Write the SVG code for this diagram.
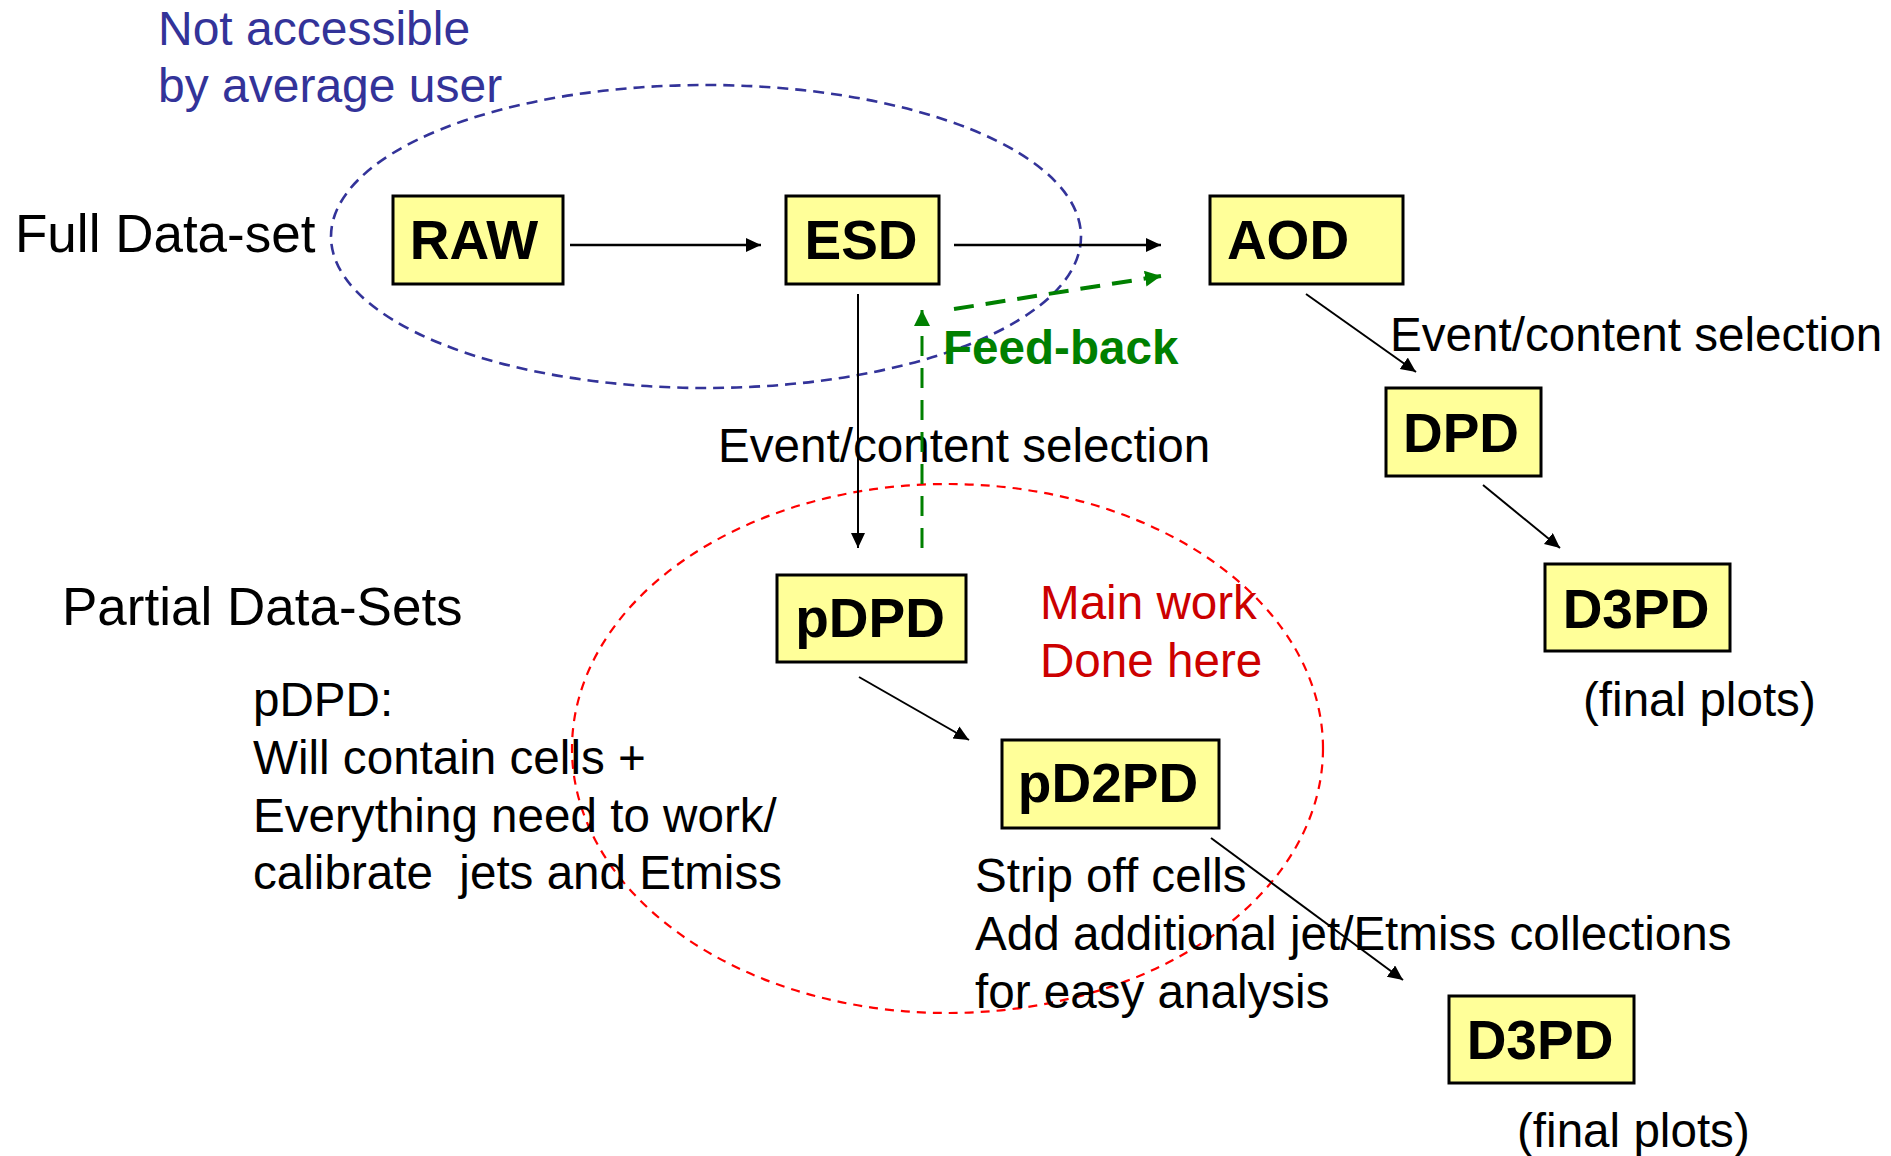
<svg xmlns="http://www.w3.org/2000/svg" width="1891" height="1156" viewBox="0 0 1891 1156">
<style>
text{font-family:"Liberation Sans",Arial,sans-serif}
.box{fill:#FFFF99;stroke:#000;stroke-width:3}
.bt{font-size:55px;font-weight:bold;fill:#000;text-anchor:middle}
.t{font-size:47.6px;fill:#000}
.big{font-size:53px;fill:#000}
.blue{font-size:48px;fill:#333399}
.red{font-size:47.6px;fill:#CC0000}
.green{font-size:47.6px;font-weight:bold;fill:#008000}
.arr{stroke:#000;stroke-width:2.5;fill:none;marker-end:url(#ah)}
.thin{stroke:#000;stroke-width:2;fill:none;marker-end:url(#ah)}
.fb{stroke:#008000;stroke-width:4;stroke-dasharray:20 12;fill:none;marker-end:url(#gh)}
.fbv{stroke:#008000;stroke-width:3;stroke-dasharray:20 12;fill:none;marker-end:url(#gh)}
</style>
<defs>
<marker id="ah" markerUnits="userSpaceOnUse" markerWidth="16" markerHeight="16" refX="15" refY="7" orient="auto">
<path d="M0,0 L15,7 L0,14 z" fill="#000"/>
</marker>
<marker id="gh" markerUnits="userSpaceOnUse" markerWidth="17" markerHeight="17" refX="16" refY="8" orient="auto">
<path d="M0,0 L16,8 L0,16 z" fill="#008000"/>
</marker>
</defs>

<g id="regions">
<ellipse cx="706" cy="236.5" rx="375" ry="151.5" fill="none" stroke="#333399" stroke-width="2.6" stroke-dasharray="11 7"/>
<ellipse cx="947.5" cy="748.5" rx="375.5" ry="264.5" fill="none" stroke="#FF0000" stroke-width="2.2" stroke-dasharray="9 7"/>
</g>

<g id="labels">
<text class="blue" x="158" y="45">Not accessible</text>
<text class="blue" x="158" y="102">by average user</text>
<text class="big" x="15" y="252">Full Data-set</text>
<text class="big" x="62" y="625">Partial Data-Sets</text>
<text class="t" x="253" y="716">pDPD:</text>
<text class="t" x="253" y="774">Will contain cells +</text>
<text class="t" x="253" y="832">Everything need to work/</text>
<text class="t" x="253" y="889" xml:space="preserve">calibrate  jets and Etmiss</text>
<text class="red" x="1040" y="619">Main work</text>
<text class="red" x="1040" y="677">Done here</text>
<text class="t" x="975" y="892">Strip off cells</text>
<text class="t" x="975" y="950">Add additional jet/Etmiss collections</text>
<text class="t" x="975" y="1008">for easy analysis</text>
<text class="t" x="1583" y="716">(final plots)</text>
<text class="t" x="1517" y="1147">(final plots)</text>
<text class="t" x="718" y="462">Event/content selection</text>
<text class="t" x="1390" y="351">Event/content selection</text>
<text class="green" x="943" y="364">Feed-back</text>
</g>

<g id="connectors">
<line class="arr" x1="570" y1="245" x2="761" y2="245"/>
<line class="arr" x1="954" y1="245" x2="1161" y2="245"/>
<line class="thin" x1="858" y1="294" x2="858" y2="548"/>
<line class="fbv" x1="922" y1="548" x2="922" y2="310"/>
<line class="fb" x1="954" y1="309" x2="1161" y2="276"/>
<line class="thin" x1="1306" y1="294" x2="1416" y2="372"/>
<line class="thin" x1="1483" y1="485" x2="1560" y2="548"/>
<line class="thin" x1="859" y1="677" x2="969" y2="740"/>
<line class="thin" x1="1211" y1="838" x2="1403" y2="980"/>
</g>

<g id="RAW"><rect class="box" x="393" y="196" width="170" height="88"/><text class="bt" x="474" y="259">RAW</text></g>
<g id="ESD"><rect class="box" x="786" y="196" width="153" height="88"/><text class="bt" x="861" y="259">ESD</text></g>
<g id="AOD"><rect class="box" x="1210" y="196" width="193" height="88"/><text class="bt" x="1288" y="259">AOD</text></g>
<g id="DPD"><rect class="box" x="1386" y="388" width="155" height="88"/><text class="bt" x="1461" y="452">DPD</text></g>
<g id="D3PD_right"><rect class="box" x="1545" y="564" width="185" height="87"/><text class="bt" x="1636" y="628">D3PD</text></g>
<g id="pDPD"><rect class="box" x="777" y="575" width="189" height="87"/><text class="bt" x="870" y="637">pDPD</text></g>
<g id="pD2PD"><rect class="box" x="1002" y="740" width="217" height="88"/><text class="bt" x="1108" y="802">pD2PD</text></g>
<g id="D3PD_bottom"><rect class="box" x="1449" y="996" width="185" height="87"/><text class="bt" x="1540" y="1059">D3PD</text></g>
</svg>
